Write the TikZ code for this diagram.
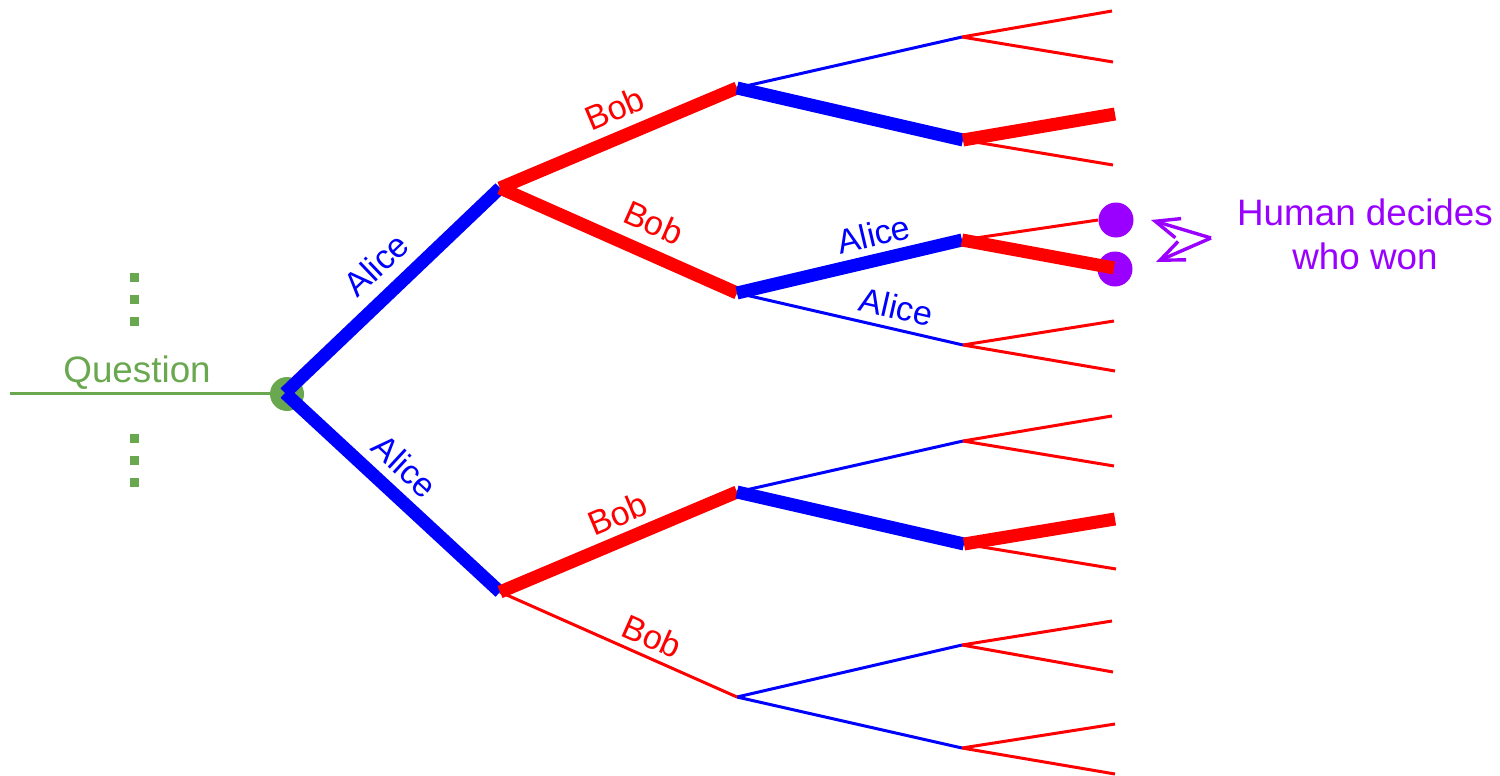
\documentclass[tikz,border=0pt]{standalone}
\usepackage{fontspec}
\setmainfont{Liberation Sans}
\usetikzlibrary{arrows.meta}
\definecolor{qgreen}{HTML}{6AA84F}
\definecolor{hpurple}{HTML}{9900FF}
\begin{document}
\begin{tikzpicture}[x=0.5pt,y=-0.5pt,line cap=butt,
  al/.style={draw=blue,line width=1.5pt},
  alw/.style={draw=blue,line width=6.5pt},
  bo/.style={draw=red,line width=1.5pt},
  bow/.style={draw=red,line width=6.5pt},
  lab/.style={sloped,inner sep=0pt,font=\fontsize{17}{20}\selectfont},
  alab/.style={lab,text=blue},
  blab/.style={lab,text=red},
  pdot/.style={circle,fill=hpurple,minimum size=17.5pt,inner sep=0pt},
  parrow/.style={draw=hpurple,line width=1.7pt,-{Straight Barb[length=12pt,width=10pt]}},
  bigtext/.style={font=\fontsize{18.4}{22}\selectfont}
]
\useasboundingbox (0,0) rectangle (1500,776);
% coordinates
\coordinate (Qs) at (10,393);
\coordinate (R) at (285,393);
\coordinate (A1) at (500,188);
\coordinate (A2) at (500,592);
\coordinate (B1) at (737,88);
\coordinate (B2) at (737,293);
\coordinate (B3) at (737,492);
\coordinate (B4) at (737,697);
\coordinate (C1) at (962,37);
\coordinate (C2) at (963,140);
\coordinate (C3) at (962,240);
\coordinate (C4) at (963,345);
\coordinate (C5) at (963,441);
\coordinate (C6) at (964,544);
\coordinate (C7) at (962,645);
\coordinate (C8) at (962,748);
\coordinate (L1) at (1112,11);
\coordinate (L2) at (1113,62);
\coordinate (L3) at (1115,114);
\coordinate (L4) at (1113,165);
\coordinate (L6) at (1114,268);
\coordinate (L7) at (1114,321);
\coordinate (L8) at (1115,371);
\coordinate (L9) at (1112,416);
\coordinate (L10) at (1114,466);
\coordinate (L11) at (1115,519);
\coordinate (L12) at (1116,569);
\coordinate (L13) at (1112,621);
\coordinate (L14) at (1113,672);
\coordinate (L15) at (1115,724);
\coordinate (L16) at (1115,774);
% dotted ellipsis
\coordinate (Du1) at (134.5,272.5);
\coordinate (Du2) at (134.5,325.5);
\coordinate (Dd1) at (134.5,433.5);
\coordinate (Dd2) at (134.5,486.5);
\draw[qgreen,line width=4.5pt,dash pattern=on 4.5pt off 6.5pt] (Du1) -- (Du2);
\draw[qgreen,line width=4.5pt,dash pattern=on 4.5pt off 6.5pt] (Dd1) -- (Dd2);
% question
\node (Q) [circle,fill=qgreen,minimum size=17pt,inner sep=0pt] at (287,394) {};
\draw[qgreen,line width=1.5pt] (Qs) -- node[pos=0.462,anchor=base,yshift=5.5pt,text=qgreen,bigtext,inner sep=0pt] {Question} (R);
% purple dots
\node (P1) [pdot] at (1116,220) {};
\node (P2) [pdot] at (1115,269) {};
% thin lines first
\draw[al] (B1) -- (C1);
\draw[al] (B2) -- node[alab,pos=0.683,above=4.1pt] {Alice} (C4);
\draw[al] (B3) -- (C5);
\draw[al] (B4) -- (C7);
\draw[al] (B4) -- (C8);
\draw[bo] (A2) -- node[blab,pos=0.605,above=3.6pt] {Bob} (B4);
\draw[bo] (C1) -- (L1);
\draw[bo] (C1) -- (L2);
\draw[bo] (C2) -- (L4);
\draw[bo] (C3) -- (P1.west);
\draw[bo] (C4) -- (L7);
\draw[bo] (C4) -- (L8);
\draw[bo] (C5) -- (L9);
\draw[bo] (C5) -- (L10);
\draw[bo] (C6) -- (L12);
\draw[bo] (C7) -- (L13);
\draw[bo] (C7) -- (L14);
\draw[bo] (C8) -- (L15);
\draw[bo] (C8) -- (L16);
% thick lines
\draw[alw] (R) -- node[alab,pos=0.52,above=5.5pt] {Alice} (A1);
\draw[alw] (R) -- node[alab,pos=0.47,above=4.5pt] {Alice} (A2);
\draw[bow] (A1) -- node[blab,pos=0.53,above=4.7pt] {Bob} (B1);
\draw[bow] (A1) -- node[blab,pos=0.596,above=5.8pt] {Bob} (B2);
\draw[bow] (A2) -- node[blab,pos=0.54,above=3.6pt] {Bob} (B3);
\draw[alw] (B1) -- (C2);
\draw[alw] (B2) -- node[alab,pos=0.634,above=3.4pt] {Alice} (C3);
\draw[alw] (B3) -- (C6);
\draw[bow] (C2) -- (L3);
\draw[bow] (C3) -- (L6);
\draw[bow] (C6) -- (L11);
% human decides
\coordinate (HV) at (1211,238);
\coordinate (T1) at (1151,220);
\coordinate (T2) at (1156,262);
\draw[parrow] (HV) -- (T1);
\draw[parrow] (HV) -- (T2);
\node (H) [bigtext,text=hpurple,align=center,anchor=base] at (1365,269) {Human decides\\who won};
\end{tikzpicture}
\end{document}
